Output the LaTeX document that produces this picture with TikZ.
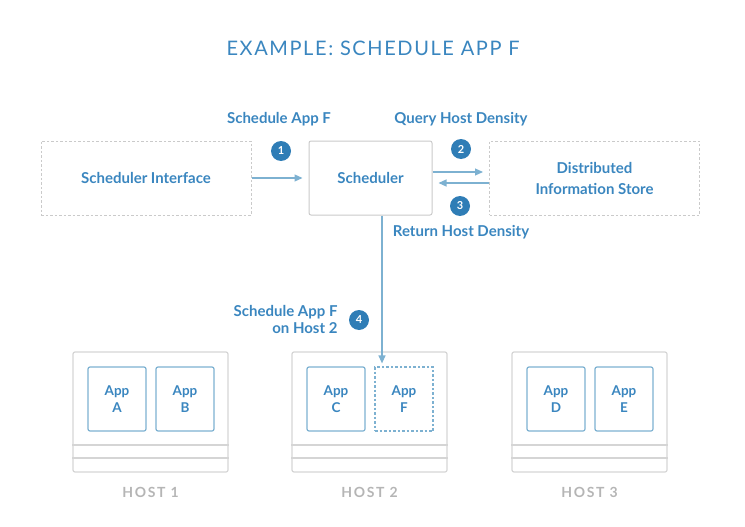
\documentclass[tikz,border=0pt]{standalone}
\usepackage{fontspec}
\setmainfont{Lato}
\usetikzlibrary{arrows.meta,positioning}
\definecolor{txtblue}{HTML}{3A86BF}
\definecolor{lineblue}{HTML}{7DB1D1}
\definecolor{boxgray}{HTML}{CACACA}
\definecolor{hostgray}{HTML}{B5B5B5}
\definecolor{dotblue}{HTML}{2F7DB6}

\begin{document}
\begin{tikzpicture}
  [x=1pt, y=-1pt,
  every node/.style={font=\bfseries\fontsize{15}{17}\selectfont, text=txtblue, align=center},
  service/.style={rectangle, draw=boxgray, line width=1pt, dashed, dash pattern=on 2.5pt off 2pt,
    minimum width=210pt, minimum height=74pt, inner sep=0pt},
  core/.style={rectangle, draw=boxgray, line width=1pt, rounded corners=2pt,
    minimum width=123pt, minimum height=74pt, inner sep=0pt},
  host/.style={rectangle, draw=boxgray!80, line width=1.2pt, rounded corners=2pt,
    minimum width=155pt, minimum height=120pt, inner sep=0pt},
  app/.style={rectangle, draw=lineblue, line width=1.2pt, rounded corners=2pt,
    minimum width=58pt, minimum height=64pt, inner sep=0pt,
    font=\bfseries\fontsize{13.5}{17}\selectfont},
  newapp/.style={app, rounded corners=0pt, dash pattern=on 2.5pt off 2pt},
  badge/.style={circle, fill=dotblue, text=white, minimum size=20pt, inner sep=0pt,
    font=\bfseries\fontsize{11}{12}\selectfont},
  hostlabel/.style={text=hostgray, font=\bfseries\fontsize{14}{16}\selectfont\addfontfeatures{LetterSpace=12}},
  flow/.style={draw=lineblue, line width=1.2pt, -{Triangle[length=8pt,width=7pt]}}]

  \useasboundingbox (0,0) rectangle (745,527);

  \node[font=\fontsize{20}{24}\selectfont\addfontfeatures{LetterSpace=8}] (title) at (373,48) {EXAMPLE: SCHEDULE APP F};

  % top row
  \node[service] (interface) at (146,178) {Scheduler Interface};
  \node[core] (scheduler) at (370.5,178) {Scheduler};
  \node[service, font=\bfseries\fontsize{15}{21}\selectfont] (store) at (594.5,178) {Distributed\\Information Store};

  % hosts
  \foreach \h/\x in {1/150.5, 2/369.5, 3/589.5} {
    \node[host] (host\h) at (\x,412) {};
    \draw[boxgray!80, line width=1.2pt] (host\h.west |- 0,445) -- (host\h.east |- 0,445)
      (host\h.west |- 0,458) -- (host\h.east |- 0,458);
    \node[hostlabel] (hostname\h) at (\x,492) {HOST \h};
  }
  \node[app] (appA) at (117,399) {App\\A};
  \node[app] (appB) at (185,399) {App\\B};
  \node[app] (appC) at (336,399) {App\\C};
  \node[newapp] (appF) at (404,399) {App\\F};
  \node[app] (appD) at (556,399) {App\\D};
  \node[app] (appE) at (624,399) {App\\E};

  % steps
  \node (step1) at (279,119) {Schedule App F};
  \node[badge] (num1) at (281,151) {1};
  \node (step2) at (461,119) {Query Host Density};
  \node[badge] (num2) at (461,149) {2};
  \node[badge] (num3) at (460,206) {3};
  \node (step3) at (461,232) {Return Host Density};
  \node[badge] (num4) at (359,320) {4};
  \node[align=right, anchor=east] (step4) at (341,319) {Schedule App F\\on Host 2};

  \draw[flow, shorten >=6pt] (interface.east) -- (scheduler.west);
  \draw[flow, shorten >=6pt] ([yshift=6pt]scheduler.east) -- ([yshift=6pt]store.west);
  \draw[flow, shorten >=6pt] ([yshift=-5pt]store.west) -- ([yshift=-5pt]scheduler.east);
  \draw[flow, shorten >=3pt] ([xshift=11.5pt]scheduler.south) -- ([xshift=11.5pt]scheduler.south |- appF.north);

\end{tikzpicture}
\end{document}
